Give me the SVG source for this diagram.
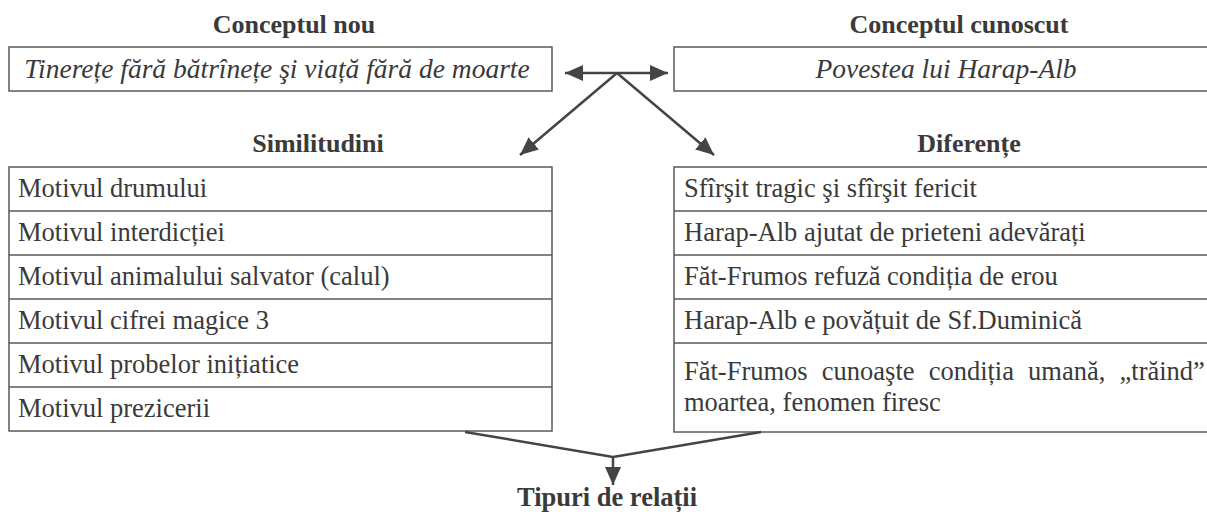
<svg xmlns="http://www.w3.org/2000/svg" width="1207" height="512" viewBox="0 0 1207 512">
<style>
.h{font-family:"Liberation Serif","Times New Roman",serif;font-weight:bold;font-size:26px;fill:#3a3a3a;text-anchor:middle}
.it{font-family:"Liberation Serif","Times New Roman",serif;font-style:italic;font-size:27.5px;fill:#3a3a3a;text-anchor:middle}
.t{font-family:"Liberation Serif","Times New Roman",serif;font-size:26.5px;fill:#3a3a3a}
.box{fill:#fff;stroke:#5a5a5a;stroke-width:1.5}
.ln{stroke:#5a5a5a;stroke-width:1.5}
.c{stroke:#444;stroke-width:2.5;fill:none}
</style>
<defs>
<marker id="ah" viewBox="0 0 18 16" refX="18" refY="8" markerWidth="18" markerHeight="16" markerUnits="userSpaceOnUse" orient="auto">
<path d="M0,0 L18,8 L0,16 Z" fill="#444"/>
</marker>
</defs>
<rect width="1207" height="512" fill="#fff"/>
<g id="concept-nou">
<text class="h" x="294" y="33">Conceptul nou</text>
<rect class="box" x="9" y="47" width="543" height="44"/>
<text class="it" x="277" y="78">Tinerețe fără bătrînețe şi viață fără de moarte</text>
</g>
<g id="concept-cunoscut">
<text class="h" x="959" y="33">Conceptul cunoscut</text>
<rect class="box" x="674" y="47" width="540" height="44"/>
<text class="it" x="946" y="78">Povestea lui Harap-Alb</text>
</g>
<g id="similitudini">
<text class="h" x="318" y="152">Similitudini</text>
<rect class="box" x="9" y="167" width="543" height="264"/>
<line class="ln" x1="9" y1="211" x2="552" y2="211"/>
<line class="ln" x1="9" y1="255" x2="552" y2="255"/>
<line class="ln" x1="9" y1="299" x2="552" y2="299"/>
<line class="ln" x1="9" y1="343" x2="552" y2="343"/>
<line class="ln" x1="9" y1="387" x2="552" y2="387"/>
<text class="t" x="18" y="197">Motivul drumului</text>
<text class="t" x="18" y="241">Motivul interdicției</text>
<text class="t" x="18" y="285">Motivul animalului salvator (calul)</text>
<text class="t" x="18" y="329">Motivul cifrei magice 3</text>
<text class="t" x="18" y="373">Motivul probelor inițiatice</text>
<text class="t" x="18" y="417">Motivul prezicerii</text>
</g>
<g id="diferente">
<text class="h" x="969" y="152">Diferențe</text>
<rect class="box" x="674" y="167" width="540" height="265"/>
<line class="ln" x1="674" y1="211" x2="1207" y2="211"/>
<line class="ln" x1="674" y1="255" x2="1207" y2="255"/>
<line class="ln" x1="674" y1="299" x2="1207" y2="299"/>
<line class="ln" x1="674" y1="343" x2="1207" y2="343"/>
<text class="t" x="684" y="197">Sfîrşit tragic şi sfîrşit fericit</text>
<text class="t" x="684" y="241">Harap-Alb ajutat de prieteni adevărați</text>
<text class="t" x="684" y="285">Făt-Frumos refuză condiția de erou</text>
<text class="t" x="684" y="329">Harap-Alb e povățuit de Sf.Duminică</text>
<text class="t" x="684" y="380" word-spacing="7.5">Făt-Frumos cunoaşte condiția umană, „trăind”</text>
<text class="t" x="684" y="411">moartea, fenomen firesc</text>
</g>
<g id="tipuri">
<text class="h" x="607" y="506" style="font-size:26.5px">Tipuri de relații</text>
</g>
<g id="connectors">
<line class="c" x1="617" y1="73" x2="565" y2="73" marker-end="url(#ah)"/>
<line class="c" x1="617" y1="73" x2="668" y2="73" marker-end="url(#ah)"/>
<line class="c" x1="617" y1="73" x2="520" y2="155" marker-end="url(#ah)"/>
<line class="c" x1="617" y1="73" x2="714" y2="155" marker-end="url(#ah)"/>
<polyline class="c" points="465,432 613,457 761,432"/>
<line class="c" x1="613" y1="457" x2="613" y2="485" marker-end="url(#ah)"/>
</g>
</svg>
